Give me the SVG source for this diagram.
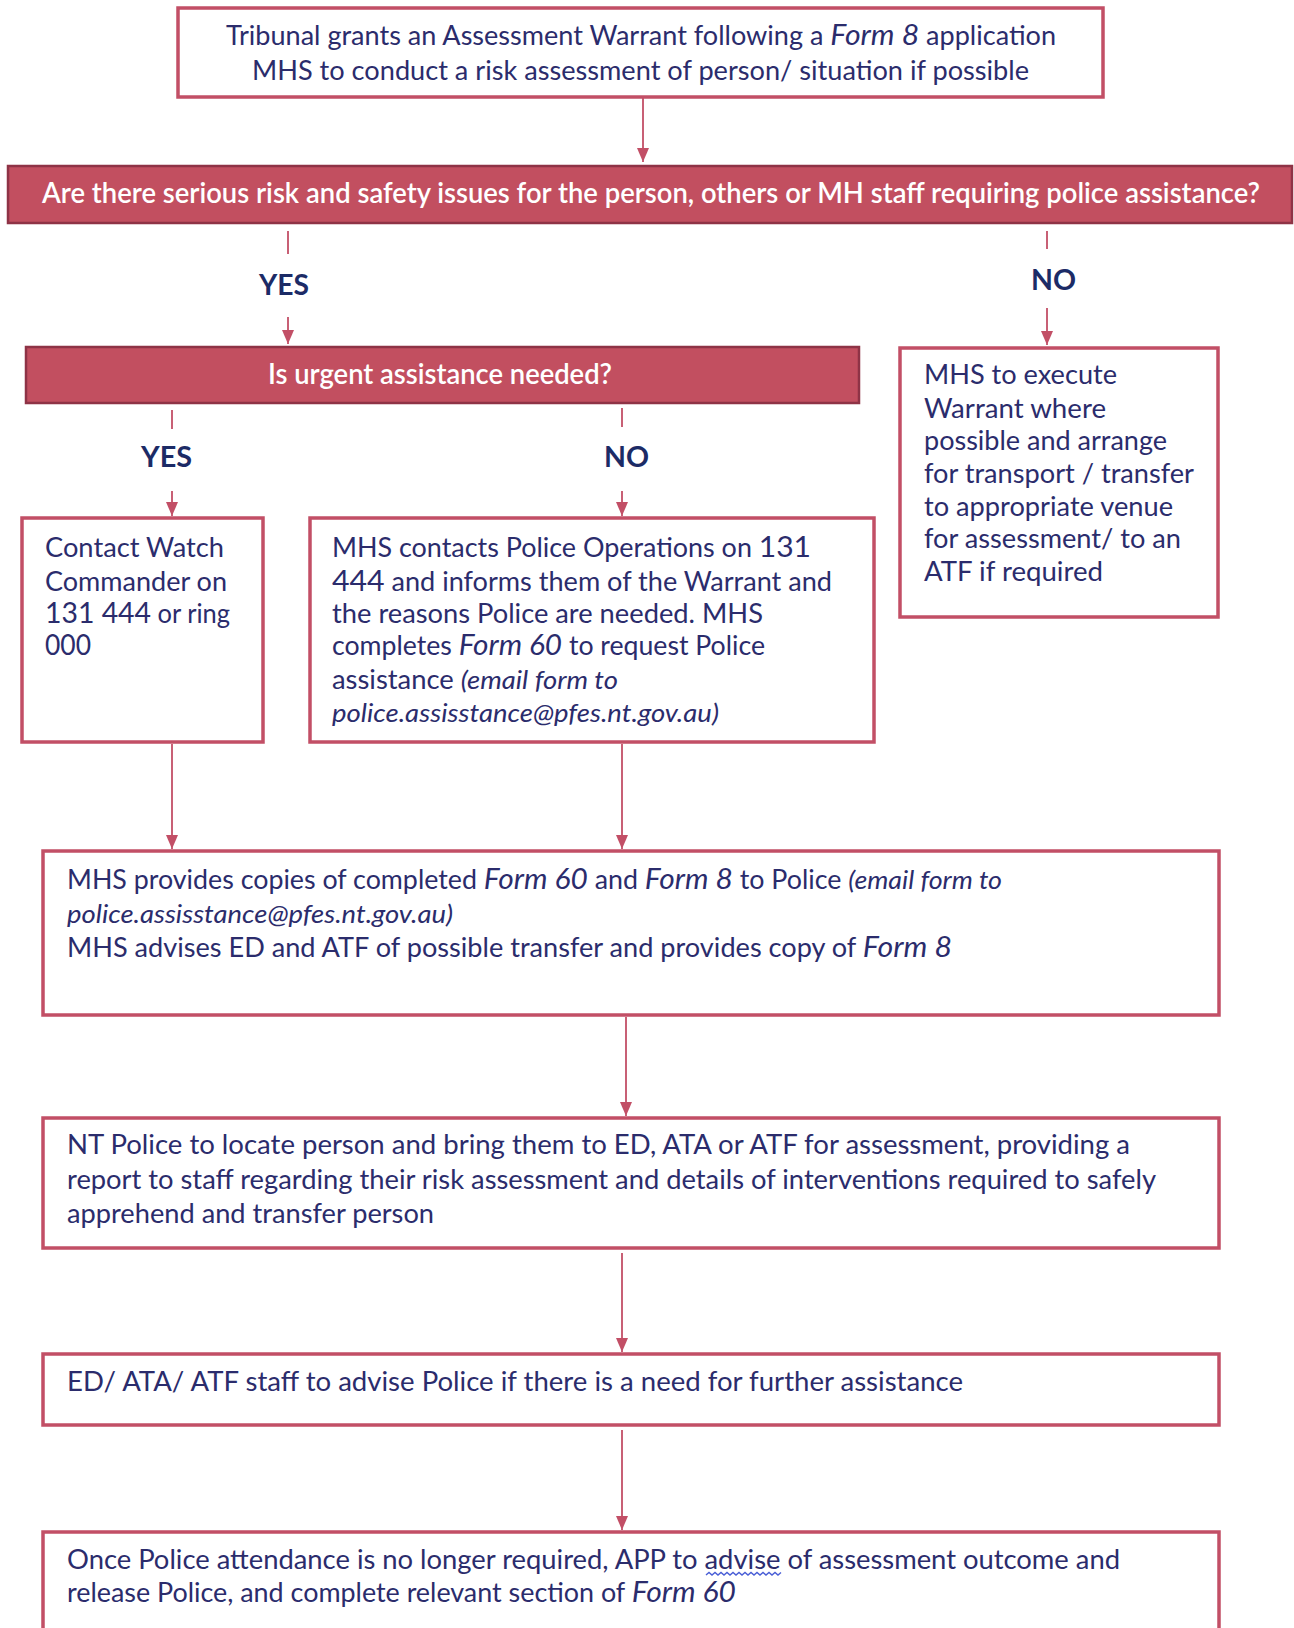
<svg xmlns="http://www.w3.org/2000/svg" width="1294" height="1628" viewBox="0 0 1294 1628">
<defs>
<style>
.box{fill:#fff;stroke:#c24f66;stroke-width:3.5}
.dec{fill:#c24f60;stroke:#8e3346;stroke-width:2.5}
.t{font-family:Lato,"Liberation Sans",sans-serif;font-size:26px;fill:#2b2c6c}
.tw{font-family:Lato,"Liberation Sans",sans-serif;font-size:28px;fill:#ffffff;font-weight:600}
.lb{font-family:Lato,"Liberation Sans",sans-serif;font-size:29px;fill:#1c2b66;font-weight:700}
.i{font-style:italic}
.n{font-size:29px}
.c{stroke:#c24f66;stroke-width:1.8;fill:none}
</style>
<marker id="a" markerWidth="12" markerHeight="14" refX="14" refY="6" orient="auto" markerUnits="userSpaceOnUse">
<path d="M0,0 L14,6 L0,12 Z" fill="#c24f66"/>
</marker>
</defs>
<rect width="1294" height="1628" fill="#ffffff"/>

<g id="connectors">
<line class="c" x1="643" y1="98" x2="643" y2="162" marker-end="url(#a)"/>
<line class="c" x1="288" y1="231" x2="288" y2="254"/>
<line class="c" x1="288" y1="317" x2="288" y2="344" marker-end="url(#a)"/>
<line class="c" x1="1047" y1="231" x2="1047" y2="249"/>
<line class="c" x1="1047" y1="308" x2="1047" y2="345" marker-end="url(#a)"/>
<line class="c" x1="172" y1="410" x2="172" y2="429"/>
<line class="c" x1="172" y1="491" x2="172" y2="516" marker-end="url(#a)"/>
<line class="c" x1="622" y1="408" x2="622" y2="427"/>
<line class="c" x1="622" y1="491" x2="622" y2="516" marker-end="url(#a)"/>
<line class="c" x1="172" y1="744" x2="172" y2="849" marker-end="url(#a)"/>
<line class="c" x1="622" y1="744" x2="622" y2="849" marker-end="url(#a)"/>
<line class="c" x1="626" y1="1017" x2="626" y2="1116" marker-end="url(#a)"/>
<line class="c" x1="622" y1="1253" x2="622" y2="1352" marker-end="url(#a)"/>
<line class="c" x1="622" y1="1430" x2="622" y2="1530" marker-end="url(#a)"/>
</g>

<g id="n1">
<rect class="box" x="178" y="8" width="925" height="89"/>
<text class="t" x="226" y="45" textLength="830" lengthAdjust="spacingAndGlyphs">Tribunal grants an Assessment Warrant following a <tspan class="i n">Form 8</tspan> application</text>
<text class="t" x="252" y="80" textLength="777" lengthAdjust="spacingAndGlyphs">MHS to conduct a risk assessment of person/ situation if possible</text>
</g>

<g id="d1">
<rect class="dec" x="8" y="166" width="1284" height="57"/>
<text class="tw" x="42" y="203" textLength="1218" lengthAdjust="spacingAndGlyphs">Are there serious risk and safety issues for the person, others or MH staff requiring police assistance?</text>
</g>

<g id="l-yes1"><text class="lb" x="259" y="295" textLength="50" lengthAdjust="spacingAndGlyphs">YES</text></g>
<g id="l-no1"><text class="lb" x="1031" y="290" textLength="45" lengthAdjust="spacingAndGlyphs">NO</text></g>

<g id="d2">
<rect class="dec" x="26" y="347" width="833" height="56"/>
<text class="tw" x="268" y="384" textLength="344" lengthAdjust="spacingAndGlyphs">Is urgent assistance needed?</text>
</g>

<g id="l-yes2"><text class="lb" x="141" y="467" textLength="51" lengthAdjust="spacingAndGlyphs">YES</text></g>
<g id="l-no2"><text class="lb" x="604" y="467" textLength="45" lengthAdjust="spacingAndGlyphs">NO</text></g>

<g id="n-right">
<rect class="box" x="900" y="348" width="318" height="269"/>
<text class="t" x="924" y="384" textLength="193" lengthAdjust="spacingAndGlyphs">MHS to execute</text>
<text class="t" x="924" y="418" textLength="182" lengthAdjust="spacingAndGlyphs">Warrant where</text>
<text class="t" x="924" y="450" textLength="243" lengthAdjust="spacingAndGlyphs">possible and arrange</text>
<text class="t" x="924" y="483" textLength="270" lengthAdjust="spacingAndGlyphs">for transport / transfer</text>
<text class="t" x="924" y="516" textLength="249" lengthAdjust="spacingAndGlyphs">to appropriate venue</text>
<text class="t" x="924" y="548" textLength="257" lengthAdjust="spacingAndGlyphs">for assessment/ to an</text>
<text class="t" x="924" y="581" textLength="179" lengthAdjust="spacingAndGlyphs">ATF if required</text>
</g>

<g id="n-yes">
<rect class="box" x="22" y="518" width="241" height="224"/>
<text class="t" x="45" y="557" textLength="179" lengthAdjust="spacingAndGlyphs">Contact Watch</text>
<text class="t" x="45" y="591" textLength="182" lengthAdjust="spacingAndGlyphs">Commander on</text>
<text class="t" x="45" y="623" textLength="185" lengthAdjust="spacingAndGlyphs"><tspan class="n">131 444</tspan> or ring</text>
<text class="t n" x="45" y="655" textLength="46" lengthAdjust="spacingAndGlyphs">000</text>
</g>

<g id="n-no">
<rect class="box" x="310" y="518" width="564" height="224"/>
<text class="t" x="332" y="557" textLength="479" lengthAdjust="spacingAndGlyphs">MHS contacts Police Operations on <tspan class="n">131</tspan></text>
<text class="t" x="332" y="591" textLength="500" lengthAdjust="spacingAndGlyphs"><tspan class="n">444</tspan> and informs them of the Warrant and</text>
<text class="t" x="332" y="623" textLength="431" lengthAdjust="spacingAndGlyphs">the reasons Police are needed. MHS</text>
<text class="t" x="332" y="655" textLength="433" lengthAdjust="spacingAndGlyphs">completes <tspan class="i n">Form 60</tspan> to request Police</text>
<text class="t" x="332" y="689" textLength="286" lengthAdjust="spacingAndGlyphs">assistance <tspan class="i">(email form to</tspan></text>
<text class="t i" x="332" y="722" textLength="387" lengthAdjust="spacingAndGlyphs">police.assisstance@pfes.nt.gov.au)</text>
</g>

<g id="n3">
<rect class="box" x="43" y="851" width="1176" height="164"/>
<text class="t" x="67" y="889" textLength="935" lengthAdjust="spacingAndGlyphs">MHS provides copies of completed <tspan class="i n">Form 60</tspan> and <tspan class="i n">Form 8</tspan> to Police <tspan class="i">(email form to</tspan></text>
<text class="t i" x="67" y="923" textLength="386" lengthAdjust="spacingAndGlyphs">police.assisstance@pfes.nt.gov.au)</text>
<text class="t" x="67" y="957" textLength="885" lengthAdjust="spacingAndGlyphs">MHS advises ED and ATF of possible transfer and provides copy of <tspan class="i n">Form 8</tspan></text>
</g>

<g id="n4">
<rect class="box" x="43" y="1118" width="1176" height="130"/>
<text class="t" x="67" y="1154" textLength="1063" lengthAdjust="spacingAndGlyphs">NT Police to locate person and bring them to ED, ATA or ATF for assessment, providing a</text>
<text class="t" x="67" y="1189" textLength="1089" lengthAdjust="spacingAndGlyphs">report to staff regarding their risk assessment and details of interventions required to safely</text>
<text class="t" x="67" y="1223" textLength="367" lengthAdjust="spacingAndGlyphs">apprehend and transfer person</text>
</g>

<g id="n5">
<rect class="box" x="43" y="1354" width="1176" height="71"/>
<text class="t" x="67" y="1391" textLength="896" lengthAdjust="spacingAndGlyphs">ED/ ATA/ ATF staff to advise Police if there is a need for further assistance</text>
</g>

<g id="n6">
<rect class="box" x="43" y="1532" width="1176" height="120"/>
<text class="t" x="67" y="1569" textLength="1053" lengthAdjust="spacingAndGlyphs">Once Police attendance is no longer required, APP to advise of assessment outcome and</text>
<text class="t" x="67" y="1602" textLength="669" lengthAdjust="spacingAndGlyphs">release Police, and complete relevant section of <tspan class="i n">Form 60</tspan></text>
<path d="M706,1575 l3,-2.5 l3,2.5 l3,-2.5 l3,2.5 l3,-2.5 l3,2.5 l3,-2.5 l3,2.5 l3,-2.5 l3,2.5 l3,-2.5 l3,2.5 l3,-2.5 l3,2.5 l3,-2.5 l3,2.5 l3,-2.5 l3,2.5 l3,-2.5 l3,2.5 l3,-2.5 l3,2.5 l3,-2.5 l3,2.5 l3,-2.5" fill="none" stroke="#4a5fd6" stroke-width="1.4"/>
</g>
</svg>
